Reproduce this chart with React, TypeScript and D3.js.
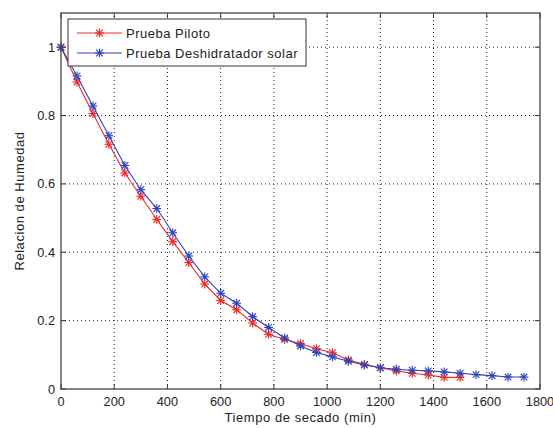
import React from "react";
import * as d3 from "d3";

const redTimes = [0, 60, 120, 180, 240, 300, 360, 420, 480, 540, 600, 660, 720, 780, 840, 900, 960, 1020, 1080, 1140, 1200, 1260, 1320, 1380, 1440, 1500];
const redValues = [1.0, 0.898, 0.806, 0.716, 0.632, 0.564, 0.496, 0.431, 0.37, 0.307, 0.259, 0.232, 0.193, 0.16, 0.145, 0.133, 0.118, 0.106, 0.085, 0.072, 0.062, 0.053, 0.046, 0.041, 0.034, 0.034];
const blueTimes = [0, 60, 120, 180, 240, 300, 360, 420, 480, 540, 600, 660, 720, 780, 840, 900, 960, 1020, 1080, 1140, 1200, 1260, 1320, 1380, 1440, 1500, 1560, 1620, 1680, 1740];
const blueValues = [1.0, 0.916, 0.828, 0.741, 0.654, 0.583, 0.528, 0.457, 0.389, 0.328, 0.28, 0.251, 0.212, 0.18, 0.149, 0.126, 0.107, 0.094, 0.081, 0.07, 0.062, 0.058, 0.055, 0.053, 0.05, 0.046, 0.042, 0.039, 0.035, 0.035];
const xTicks = [0, 200, 400, 600, 800, 1000, 1200, 1400, 1600, 1800];
const yTicks = [0, 0.2, 0.4, 0.6, 0.8, 1];
const seriesNames = ["Prueba Piloto", "Prueba Deshidratador solar"];
const seriesColors = ["#f02828", "#2f45b8"];
const xLabel = "Tiempo de secado (min)";
const yLabel = "Relacion de Humedad";

const W = 553, H = 428;
const L = 61, R = 540, T = 13, B = 389;
const FONT = "'Liberation Sans', Arial, sans-serif";

function Star({ x, y, color }: { x: number; y: number; color: string }) {
  const s = 4.4, d = 3.3;
  return (
    <g stroke={color} strokeWidth={1.15}>
      <line x1={x - s} y1={y} x2={x + s} y2={y} />
      <line x1={x} y1={y - s} x2={x} y2={y + s} />
      <line x1={x - d} y1={y - d} x2={x + d} y2={y + d} />
      <line x1={x - d} y1={y + d} x2={x + d} y2={y - d} />
    </g>
  );
}

export default function App() {
  const x = d3.scaleLinear().domain([0, 1800]).range([L, R]);
  const y = d3.scaleLinear().domain([0, 1.1]).range([B, T]);
  const series = [
    { t: redTimes, v: redValues },
    { t: blueTimes, v: blueValues },
  ];
  const line = d3.line<[number, number]>().x(d => x(d[0])).y(d => y(d[1]));

  return (
    <svg width={W} height={H} style={{ position: "absolute", left: 0, top: 0, background: "#fff" }} fontFamily={FONT}>
      <rect x={0} y={0} width={W} height={H} fill="#fff" />
      {/* grid */}
      <g stroke="#222" strokeWidth={1} strokeDasharray="1,3">
        {xTicks.slice(1, -1).map(t => (
          <line key={"gx" + t} x1={x(t)} x2={x(t)} y1={B} y2={T} />
        ))}
        {yTicks.slice(1).map(t => (
          <line key={"gy" + t} x1={L} x2={R} y1={y(t)} y2={y(t)} />
        ))}
      </g>
      {/* ticks */}
      <g stroke="#333" strokeWidth={1}>
        {xTicks.map(t => (
          <g key={"tx" + t}>
            <line x1={x(t)} x2={x(t)} y1={B} y2={B - 5} />
            <line x1={x(t)} x2={x(t)} y1={T} y2={T + 5} />
          </g>
        ))}
        {yTicks.map(t => (
          <g key={"ty" + t}>
            <line x1={L} x2={L + 5} y1={y(t)} y2={y(t)} />
            <line x1={R} x2={R - 5} y1={y(t)} y2={y(t)} />
          </g>
        ))}
      </g>
      {/* data */}
      {series.map((s, i) => {
        const pts: [number, number][] = s.t.map((t, j) => [t, s.v[j]]);
        return (
          <g key={"s" + i}>
            <path d={line(pts) || ""} fill="none" stroke={seriesColors[i]} strokeWidth={1.1} />
            {pts.map((p, j) => (
              <Star key={j} x={x(p[0])} y={y(p[1])} color={seriesColors[i]} />
            ))}
          </g>
        );
      })}
      {/* box */}
      <rect x={L} y={T} width={R - L} height={B - T} fill="none" stroke="#444" strokeWidth={1.3} />
      {/* tick labels */}
      <g fontSize={12.8} fill="#222">
        {xTicks.map(t => (
          <text key={"lx" + t} x={x(t)} y={405.5} textAnchor="middle">{t}</text>
        ))}
        {yTicks.map(t => (
          <text key={"ly" + t} x={L - 6} y={y(t) + 4.5} textAnchor="end">{String(t)}</text>
        ))}
      </g>
      <text x={(L + R) / 2} y={421.5} textAnchor="middle" fontSize={13} letterSpacing={0.55} fill="#222">{xLabel}</text>
      <text transform={`translate(24,${(T + B) / 2}) rotate(-90)`} textAnchor="middle" fontSize={13} letterSpacing={0.55} fill="#222">{yLabel}</text>
      {/* legend */}
      <g>
        <rect x={68} y={19} width={238} height={47} fill="#fff" stroke="#333" strokeWidth={1} />
        {seriesNames.map((n, i) => {
          const ly = 33 + i * 20;
          return (
            <g key={"lg" + i}>
              <line x1={77} x2={122} y1={ly} y2={ly} stroke={seriesColors[i]} strokeWidth={1.1} />
              <Star x={99.5} y={ly} color={seriesColors[i]} />
              <text x={126} y={ly + 4.5} fontSize={13} letterSpacing={0.5} fill="#222">{n}</text>
            </g>
          );
        })}
      </g>
    </svg>
  );
}
